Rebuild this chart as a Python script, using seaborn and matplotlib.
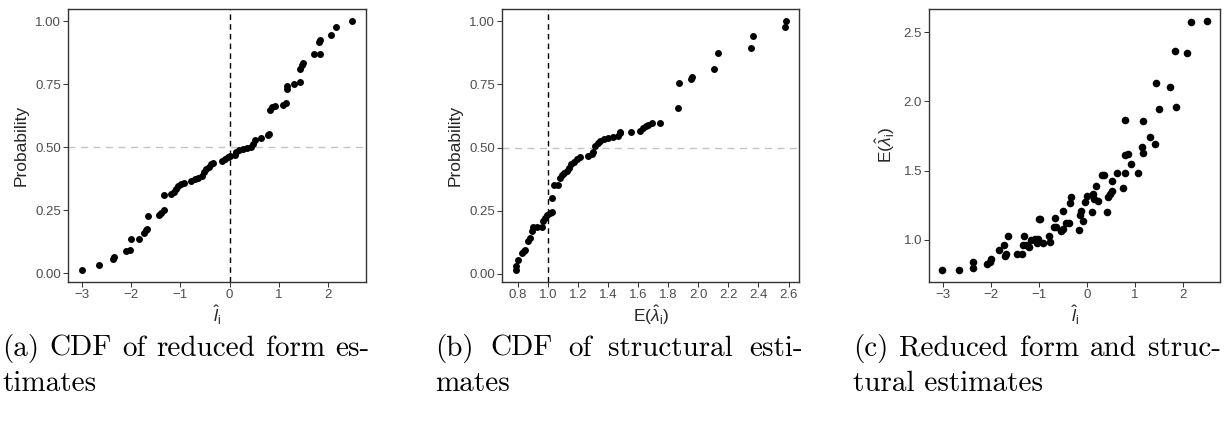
import matplotlib
matplotlib.use("Agg")
import matplotlib.pyplot as plt
import seaborn as sns
import pandas as pd

# ---- (a) empirical CDF of the reduced-form estimates l_i ----
l_hat_sorted = [-3.00, -2.64, -2.37, -2.34, -2.09, -2.02, -1.99, -1.84, -1.74, -1.70,
                -1.67, -1.65, -1.44, -1.38, -1.33, -1.32, -1.19, -1.12, -1.08, -1.04,
                -0.98, -0.92, -0.78, -0.70, -0.63, -0.55, -0.52, -0.47, -0.42, -0.37,
                -0.33, -0.16, -0.10, -0.04, 0.00, 0.10, 0.14, 0.20, 0.27, 0.36,
                0.44, 0.48, 0.52, 0.64, 0.77, 0.80, 0.81, 0.85, 0.92, 1.08,
                1.14, 1.16, 1.17, 1.31, 1.42, 1.43, 1.47, 1.49, 1.72, 1.83,
                1.82, 1.84, 2.06, 2.15, 2.49]
cdf_l = [0.015, 0.032, 0.058, 0.065, 0.090, 0.094, 0.136, 0.137, 0.162, 0.172,
         0.178, 0.229, 0.232, 0.240, 0.253, 0.313, 0.316, 0.324, 0.336, 0.348,
         0.356, 0.360, 0.365, 0.373, 0.380, 0.387, 0.402, 0.413, 0.424, 0.433,
         0.440, 0.445, 0.455, 0.462, 0.465, 0.470, 0.480, 0.488, 0.494, 0.499,
         0.503, 0.515, 0.530, 0.537, 0.548, 0.554, 0.648, 0.660, 0.665, 0.670,
         0.677, 0.733, 0.742, 0.750, 0.758, 0.812, 0.826, 0.834, 0.870, 0.870,
         0.918, 0.926, 0.946, 0.976, 1.000]

# ---- (b) empirical CDF of the structural estimates E(lambda_i) ----
lam_sorted = [0.783, 0.787, 0.800, 0.829, 0.838, 0.846, 0.866, 0.879, 0.895, 0.900,
              0.928, 0.960, 0.968, 0.978, 0.993, 1.010, 1.027, 1.028, 1.036, 1.064,
              1.076, 1.090, 1.105, 1.125, 1.140, 1.155, 1.175, 1.195, 1.212, 1.268,
              1.290, 1.302, 1.315, 1.330, 1.348, 1.375, 1.400, 1.430, 1.467, 1.478,
              1.480, 1.555, 1.612, 1.630, 1.650, 1.668, 1.690, 1.743, 1.862, 1.871,
              1.950, 1.960, 2.104, 2.130, 2.350, 2.366, 2.575, 2.580]
cdf_lam = [0.016, 0.029, 0.056, 0.082, 0.088, 0.093, 0.128, 0.140, 0.168, 0.183,
           0.185, 0.186, 0.208, 0.220, 0.232, 0.240, 0.245, 0.298, 0.352, 0.352,
           0.380, 0.390, 0.398, 0.408, 0.420, 0.434, 0.442, 0.453, 0.464, 0.466,
           0.474, 0.484, 0.505, 0.516, 0.524, 0.532, 0.537, 0.540, 0.546, 0.557,
           0.562, 0.561, 0.565, 0.577, 0.585, 0.590, 0.596, 0.598, 0.658, 0.755,
           0.773, 0.780, 0.813, 0.874, 0.894, 0.943, 0.976, 1.000]

# ---- (c) reduced-form vs structural estimates ----
pair_l = [-3.01, -2.66, -2.37, -2.36, -2.08, -2.02, -2.00, -1.84, -1.72, -1.71,
          -1.69, -1.65, -1.45, -1.36, -1.33, -1.32, -1.26, -1.21, -1.17, -1.09,
          -1.03, -1.02, -1.00, -0.98, -0.92, -0.80, -0.76, -0.69, -0.67, -0.64,
          -0.54, -0.50, -0.49, -0.43, -0.38, -0.36, -0.33, -0.16, -0.14, -0.12,
          -0.08, -0.04, 0.00, 0.11, 0.12, 0.15, 0.19, 0.23, 0.32, 0.35,
          0.41, 0.43, 0.48, 0.51, 0.52, 0.63, 0.75, 0.78, 0.80, 0.80,
          0.85, 0.91, 1.06, 1.15, 1.17, 1.16, 1.32, 1.41, 1.44, 1.49,
          1.73, 1.82, 1.84, 2.08, 2.16, 2.49]
pair_lam = [0.785, 0.785, 0.800, 0.840, 0.824, 0.840, 0.862, 0.925, 0.960, 0.884,
            0.896, 1.030, 0.896, 0.896, 0.960, 1.030, 0.960, 0.950, 1.000, 1.005,
            0.980, 1.005, 1.150, 1.152, 0.976, 1.024, 0.986, 1.090, 1.157, 1.090,
            1.065, 1.075, 1.205, 1.118, 1.125, 1.265, 1.306, 1.072, 1.180, 1.205,
            1.137, 1.272, 1.314, 1.200, 1.330, 1.294, 1.390, 1.277, 1.470, 1.470,
            1.203, 1.306, 1.330, 1.355, 1.425, 1.480, 1.374, 1.480, 1.610, 1.866,
            1.620, 1.550, 1.485, 1.670, 1.630, 1.860, 1.740, 1.690, 2.130, 1.945,
            2.100, 2.365, 1.957, 2.350, 2.575, 2.577]

l_ticks = [-3, -2, -1, 0, 1, 2]
prob_ticks = [0.00, 0.25, 0.50, 0.75, 1.00]
prob_labels = ["0.00", "0.25", "0.50", "0.75", "1.00"]
lam_ticks = [0.8, 1.0, 1.2, 1.4, 1.6, 1.8, 2.0, 2.2, 2.4, 2.6]
lam_ticks_c = [1.0, 1.5, 2.0, 2.5]

captions = [
    ("(a) CDF of reduced form es-", "timates"),
    ("(b) CDF of structural esti-", "mates"),
    ("(c) Reduced form and struc-", "tural estimates"),
]

L_LABEL = r"$\hat{l}_{\mathrm{i}}$"
LAM_LABEL = r"E($\hat{\lambda}_{\mathrm{i}}$)"

sns.set_style("ticks")
plt.rcParams["font.family"] = ["Liberation Sans", "DejaVu Sans"]
plt.rcParams["mathtext.fontset"] = "custom"
plt.rcParams["mathtext.rm"] = "Liberation Sans"
plt.rcParams["mathtext.it"] = "Liberation Sans:italic"
plt.rcParams["mathtext.bf"] = "Liberation Sans:bold"

W, H = 1230, 424
fig = plt.figure(figsize=(W / 100, H / 100), dpi=100)


def add_axes(left, right, top=9, bottom=282):
    return fig.add_axes([left / W, (H - bottom) / H, (right - left) / W, (bottom - top) / H])


def expanded(vals, mult=0.05):
    lo, hi = min(vals), max(vals)
    pad = (hi - lo) * mult
    return lo - pad, hi + pad


def style(ax):
    for sp in ax.spines.values():
        sp.set_visible(True)
        sp.set_color("#333333")
        sp.set_linewidth(1.0)
    ax.tick_params(direction="out", length=3.5, width=0.7, color="#333333",
                   labelcolor="#4D4D4D", labelsize=9.5, pad=1.5)
    ax.grid(False)


point_kw = dict(color="black", linewidth=0, legend=False)
dash_black = dict(color="black", linewidth=1.0, linestyle=(0, (4, 3)), zorder=1)
dash_grey = dict(color="#C4C4C4", linewidth=1.0, linestyle=(0, (5, 4)), zorder=1)

# (a)
ax_a = add_axes(68, 366)
df_a = pd.DataFrame({"l": l_hat_sorted, "p": cdf_l})
ax_a.axvline(0, **dash_black)
ax_a.axhline(0.5, **dash_grey)
sns.scatterplot(data=df_a, x="l", y="p", ax=ax_a, zorder=3, s=25, **point_kw)
ax_a.set_xlim(*expanded(l_hat_sorted))
ax_a.set_ylim(*expanded(cdf_l))
ax_a.set_xticks(l_ticks)
ax_a.set_yticks(prob_ticks, prob_labels)
ax_a.set_xlabel(L_LABEL, fontsize=12.5, labelpad=2)
ax_a.set_ylabel("Probability", fontsize=12.5, labelpad=5)
style(ax_a)

# (b)
ax_b = add_axes(502, 799)
df_b = pd.DataFrame({"lam": lam_sorted, "p": cdf_lam})
ax_b.axvline(1.0, **dash_black)
ax_b.axhline(0.5, **dash_grey)
sns.scatterplot(data=df_b, x="lam", y="p", ax=ax_b, zorder=3, s=25, **point_kw)
ax_b.set_xlim(*expanded(lam_sorted))
ax_b.set_ylim(*expanded(cdf_lam))
ax_b.set_xticks(lam_ticks, [f"{v:.1f}" for v in lam_ticks])
ax_b.set_yticks(prob_ticks, prob_labels)
ax_b.set_xlabel(LAM_LABEL, fontsize=12.5, labelpad=2)
ax_b.set_ylabel("Probability", fontsize=12.5, labelpad=5)
style(ax_b)

# (c)
ax_c = add_axes(929, 1220)
df_c = pd.DataFrame({"l": pair_l, "lam": pair_lam})
sns.scatterplot(data=df_c, x="l", y="lam", ax=ax_c, zorder=3, s=30, **point_kw)
ax_c.set_xlim(*expanded(pair_l))
ax_c.set_ylim(*expanded(pair_lam))
ax_c.set_xticks(l_ticks)
ax_c.set_yticks(lam_ticks_c, [f"{v:.1f}" for v in lam_ticks_c])
ax_c.set_xlabel(L_LABEL, fontsize=12.5, labelpad=2)
ax_c.set_ylabel(LAM_LABEL, fontsize=12.5, labelpad=5)
style(ax_c)

# Sub-figure captions: first line justified, second line flush left
renderer = fig.canvas.get_renderer()
cap_kw = dict(family="cmr10", fontsize=21, color="black", va="baseline", ha="left")
cap_left = [2, 435, 853]
cap_width = 368
line1_y, line2_y = 356, 391
for (first, second), x0 in zip(captions, cap_left):
    words = first.split(" ")
    texts = [fig.text(0, (H - line1_y) / H, w, **cap_kw) for w in words]
    widths = [t.get_window_extent(renderer).width for t in texts]
    gap = (cap_width - sum(widths)) / (len(words) - 1)
    x = x0
    for t, w in zip(texts, widths):
        t.set_x(x / W)
        x += w + gap
    fig.text(x0 / W, (H - line2_y) / H, second, **cap_kw)

fig.savefig("out.png", dpi=100)
